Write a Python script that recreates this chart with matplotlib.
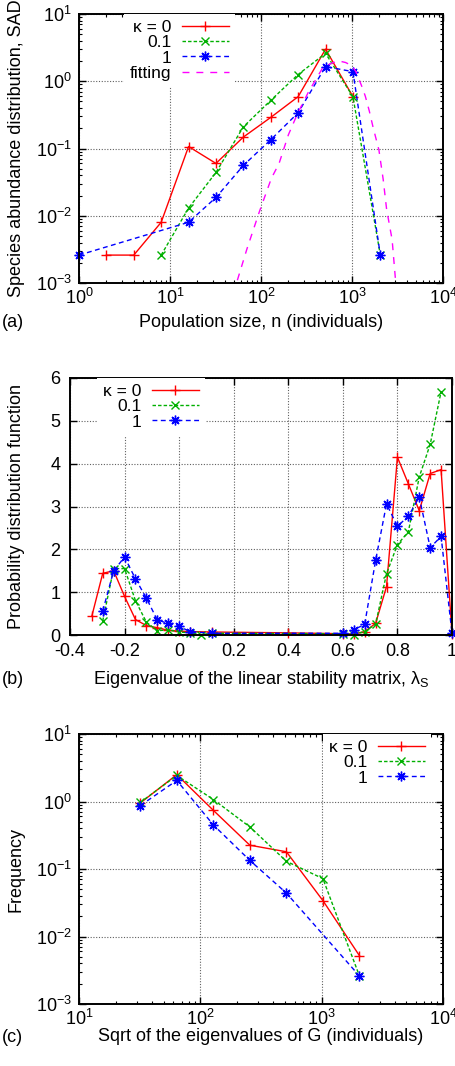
import matplotlib
matplotlib.use('Agg')
import matplotlib.pyplot as plt
from matplotlib.ticker import LogLocator, MultipleLocator, FormatStrFormatter, NullFormatter

plt.rcParams['font.family'] = ['Liberation Sans', 'DejaVu Sans']
plt.rcParams['mathtext.fontset'] = 'custom'
plt.rcParams['mathtext.rm'] = 'Liberation Sans'
plt.rcParams['mathtext.it'] = 'Liberation Sans:italic'
plt.rcParams['font.size'] = 13

# (a) species abundance distribution
sad_k0_n = [2, 4, 8, 16, 32, 64, 128, 256, 512, 1024]
sad_k0 = [0.0026, 0.0026, 0.008, 0.107, 0.06, 0.148, 0.29, 0.59, 3.0, 0.59]
sad_k01_n = [8, 16, 32, 64, 128, 256, 512, 1024, 2048]
sad_k01 = [0.0026, 0.013, 0.044, 0.21, 0.52, 1.26, 2.6, 0.59, 0.0026]
sad_k1_n = [1, 16, 32, 64, 128, 256, 512, 1024, 2048]
sad_k1 = [0.0026, 0.008, 0.0187, 0.056, 0.135, 0.34, 1.65, 1.39, 0.0026]
fit_n = [55, 70, 96, 130, 158, 200, 252, 330, 473, 600, 720, 850, 1000,
         1100, 1200, 1300, 1400, 1550, 1700, 1976, 2200, 2400, 2760, 3008]
fit_y = [0.0011, 0.0032, 0.0115, 0.036, 0.06, 0.16, 0.33, 0.68, 1.56, 1.87,
         2.0, 1.9, 1.7, 1.4, 1.05, 0.8, 0.6, 0.36, 0.21, 0.095, 0.035, 0.0125,
         0.0044, 0.0011]

# (b) eigenvalues of the linear stability matrix
pdf_k0_x = [-0.32, -0.28, -0.24, -0.2, -0.16, -0.12, -0.08, -0.04, 0, 0.04, 0.12,
            0.4, 0.6, 0.64, 0.68, 0.72, 0.76, 0.8, 0.84, 0.88, 0.92, 0.96, 1.0]
pdf_k0 = [0.44, 1.44, 1.5, 0.9, 0.36, 0.22, 0.17, 0.11, 0.09, 0.08, 0.07,
          0.05, 0.03, 0.02, 0.08, 0.27, 1.13, 4.15, 3.53, 2.9, 3.77, 3.86, 0.02]
pdf_k01_x = [-0.28, -0.24, -0.2, -0.16, -0.12, -0.08, -0.04, 0, 0.04, 0.08, 0.12,
             0.6, 0.64, 0.68, 0.72, 0.76, 0.8, 0.84, 0.88, 0.92, 0.96]
pdf_k01 = [0.33, 1.55, 1.55, 0.8, 0.3, 0.1, 0.12, 0.07, 0.05, 0.01, 0.04,
           0.03, 0.01, 0.08, 0.25, 1.43, 2.11, 2.41, 3.69, 4.45, 5.68]
pdf_k1_x = [-0.28, -0.24, -0.2, -0.16, -0.12, -0.08, -0.04, 0, 0.04, 0.12,
            0.6, 0.64, 0.68, 0.72, 0.76, 0.8, 0.84, 0.88, 0.92, 0.96, 1.0]
pdf_k1 = [0.56, 1.5, 1.82, 1.31, 0.86, 0.35, 0.27, 0.2, 0.08, 0.04,
          0.04, 0.12, 0.25, 1.74, 3.06, 2.54, 2.77, 3.22, 2.04, 2.3, 0.04]

# (c) sqrt of eigenvalues of G
g_x = [32, 64, 128, 256, 512, 1024, 2048]
g_k0 = [0.95, 2.5, 0.74, 0.225, 0.18, 0.034, 0.0052]
g_k01 = [0.97, 2.43, 1.07, 0.42, 0.13, 0.072, 0.0026]
g_k1_x = [32, 64, 128, 256, 512, 2048]
g_k1 = [0.87, 2.05, 0.45, 0.134, 0.044, 0.0026]

labels = ['κ = 0', '0.1', '1']
red = dict(color='#ff0000', ls='-', marker='+', ms=7, mew=1.0, lw=1.0)
green = dict(color='#00b000', ls=(0, (2.5, 1.5)), marker='x', ms=6, mew=1.0, lw=1.0)
blue = dict(color='#0000ff', ls=(0, (3.5, 2.5)), marker=(8, 2, 0), ms=7, mew=1.0, lw=1.0)
magenta = dict(color='#ff00ff', ls=(0, (5, 5)), lw=1.0)


def style(ax):
    ax.tick_params(which='both', direction='in', top=True, right=True)
    ax.tick_params(which='major', length=5, width=1)
    ax.tick_params(which='minor', length=2.5, width=0.8)
    ax.grid(True, which='major', color='#606060', lw=0.8, ls=(0, (1, 1.5)))
    for s in ax.spines.values():
        s.set_linewidth(1.4)


def logaxes(ax):
    for axis in (ax.xaxis, ax.yaxis):
        axis.set_major_locator(LogLocator(base=10, numticks=20))
        axis.set_minor_locator(LogLocator(base=10, subs=range(2, 10), numticks=20))
        axis.set_minor_formatter(NullFormatter())
    ax.tick_params(axis='x', pad=3.5)
    ax.tick_params(axis='y', pad=5)


def legend(ax, loc, anchor):
    leg = ax.legend(loc=loc, bbox_to_anchor=anchor, markerfirst=False, fontsize=12.5,
                    frameon=True, fancybox=False, edgecolor='none', facecolor='white',
                    framealpha=1, handlelength=2.7, handletextpad=0.6,
                    labelspacing=0.0, borderpad=0.35, borderaxespad=0, numpoints=1)
    leg.set_zorder(5)


fig = plt.figure(figsize=(4.56, 10.66), dpi=100)

# panel (a)
ax1 = fig.add_axes([79 / 456, 1 - 283 / 1066, 364 / 456, 269 / 1066])
ax1.set_xscale('log')
ax1.set_yscale('log')
ax1.plot(sad_k0_n, sad_k0, label=labels[0], clip_on=False, **red)
ax1.plot(sad_k01_n, sad_k01, label=labels[1], clip_on=False, **green)
ax1.plot(sad_k1_n, sad_k1, label=labels[2], clip_on=False, **blue)
ax1.plot(fit_n, fit_y, label='fitting', **magenta)
ax1.set_xlim(1, 1e4)
ax1.set_ylim(1e-3, 10)
style(ax1)
logaxes(ax1)
ax1.set_xlabel('Population size, n (individuals)')
ax1.set_ylabel('Species abundance distribution, SAD')
ax1.xaxis.set_label_coords(0.5, -0.145)
ax1.yaxis.set_label_coords(-0.172, 0.5)
legend(ax1, 'upper right', (0.4286, 1.0))

# panel (b)
ax2 = fig.add_axes([70 / 456, 1 - 635 / 1066, 382 / 456, 257 / 1066])
ax2.plot(pdf_k0_x, pdf_k0, label=labels[0], clip_on=False, **red)
ax2.plot(pdf_k01_x, pdf_k01, label=labels[1], clip_on=False, **green)
ax2.plot(pdf_k1_x, pdf_k1, label=labels[2], clip_on=False, **blue)
ax2.set_xlim(-0.4, 1.0)
ax2.set_ylim(0, 6)
ax2.xaxis.set_major_locator(MultipleLocator(0.2))
ax2.yaxis.set_major_locator(MultipleLocator(1))
ax2.xaxis.set_major_formatter(FormatStrFormatter('%g'))
style(ax2)
ax2.tick_params(axis='x', pad=6)
ax2.tick_params(axis='y', pad=7)
ax2.set_xlabel(r'Eigenvalue of the linear stability matrix, $\mathrm{\lambda_S}$')
ax2.set_ylabel('Probability distribution function')
ax2.xaxis.set_label_coords(0.5, -0.175)
ax2.yaxis.set_label_coords(-0.141, 0.5)
legend(ax2, 'upper right', (0.353, 1.0))

# panel (c)
ax3 = fig.add_axes([79 / 456, 1 - 1004 / 1066, 364 / 456, 270 / 1066])
ax3.set_xscale('log')
ax3.set_yscale('log')
ax3.plot(g_x, g_k0, label=labels[0], clip_on=False, **red)
ax3.plot(g_x, g_k01, label=labels[1], clip_on=False, **green)
ax3.plot(g_k1_x, g_k1, label=labels[2], clip_on=False, **blue)
ax3.set_xlim(10, 1e4)
ax3.set_ylim(1e-3, 10)
style(ax3)
logaxes(ax3)
ax3.set_xlabel('Sqrt of the eigenvalues of G (individuals)')
ax3.set_ylabel('Frequency')
ax3.xaxis.set_label_coords(0.5, -0.122)
ax3.yaxis.set_label_coords(-0.172, 0.5)
legend(ax3, 'upper right', (0.967, 1.0))

for ax in (ax1, ax2, ax3):
    ax.xaxis.label.set_va('center')
    ax.yaxis.label.set_va('center')

fig.text(2 / 456, 1 - 322 / 1066, '(a)', va='center', ha='left')
fig.text(2 / 456, 1 - 680 / 1066, '(b)', va='center', ha='left')
fig.text(2 / 456, 1 - 1037 / 1066, '(c)', va='center', ha='left')

fig.savefig('out.png', dpi=100)
